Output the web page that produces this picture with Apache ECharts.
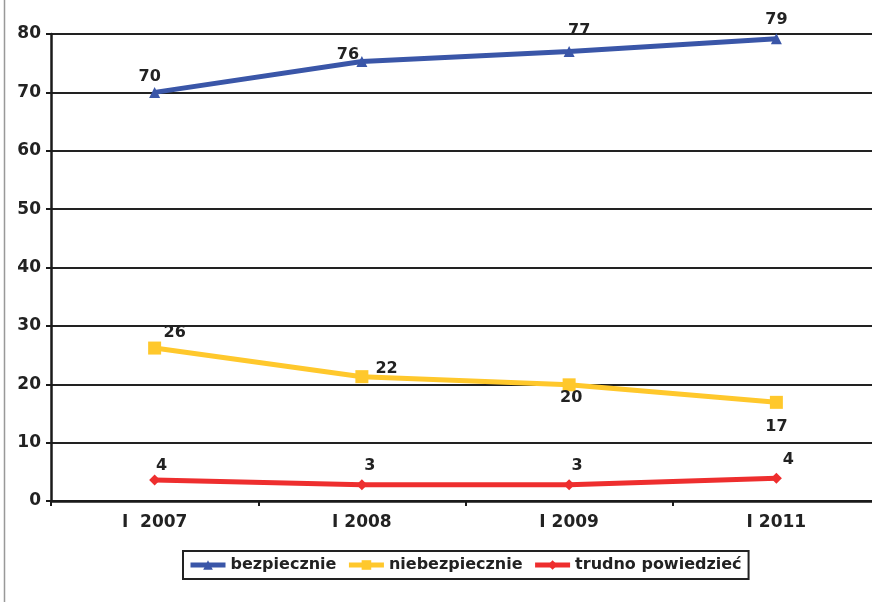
<!DOCTYPE html>
<html><head><meta charset="utf-8">
<script src="https://cdn.jsdelivr.net/npm/echarts@6/dist/echarts.min.js"></script>
<style>html,body{margin:0;padding:0;background:#fff;overflow:hidden;width:872px;height:602px}#c{width:880px;height:602px}</style>
</head><body><div id="c"></div>
<script>
const categories = ['I  2007', 'I 2008', 'I 2009', 'I 2011'];
const seriesNames = ['bezpiecznie', 'niebezpiecznie', 'trudno powiedzieć'];
const bezpiecznie = [70, 75.3, 77.0, 79.2];
const bezpiecznieLabels = [70, 76, 77, 79];
const niebezpiecznie = [26.2, 21.3, 19.9, 16.9];
const niebezpiecznieLabels = [26, 22, 20, 17];
const trudno = [3.6, 2.8, 2.8, 3.9];
const trudnoLabels = [4, 3, 3, 4];
const yTicks = [0, 10, 20, 30, 40, 50, 60, 70, 80];

const font = 'DejaVu Sans';
const lblBase = {show: true, color: '#222', fontFamily: font, fontWeight: 'bold', fontSize: 16};

function mk(vals, labels, opts) {
  return vals.map((v, i) => ({value: v, label: Object.assign({}, lblBase, {formatter: String(labels[i])}, opts[i])}));
}

const chart = echarts.init(document.getElementById('c'), null, {renderer: 'canvas'});
chart.setOption({
  animation: false,
  backgroundColor: '#fff',
  grid: {left: 51, top: 34, right: 0, bottom: 101, containLabel: false},
  xAxis: {
    type: 'category', data: categories, boundaryGap: true,
    axisLine: {lineStyle: {color: '#1a1a1a', width: 2.5}},
    axisTick: {show: true, length: 5, lineStyle: {color: '#1a1a1a', width: 2}},
    axisLabel: {color: '#222', fontFamily: font, fontWeight: 'bold', fontSize: 17, margin: 13}
  },
  yAxis: {
    type: 'value', min: 0, max: 80, interval: 10,
    axisLine: {show: true, lineStyle: {color: '#1a1a1a', width: 2.5}},
    axisTick: {show: true, length: 5, lineStyle: {color: '#1a1a1a', width: 2}},
    axisLabel: {color: '#222', fontFamily: font, fontWeight: 'bold', fontSize: 17, margin: 10,
      formatter: v => yTicks.includes(v) ? String(v) : ''},
    splitLine: {lineStyle: {color: '#222', width: 2}}
  },
  legend: {
    bottom: 23, left: 183,
    data: seriesNames,
    itemWidth: 35, itemHeight: 12, itemGap: 10,
    padding: [6, 7, 6, 5],
    borderColor: '#222', borderWidth: 2,
    lineStyle: {width: 5},
    textStyle: {color: '#222', fontFamily: font, fontWeight: 'bold', fontSize: 16}
  },
  graphic: [{type: 'line', shape: {x1: 4.5, y1: 0, x2: 4.5, y2: 602}, style: {stroke: '#999', lineWidth: 1.5}}],
  series: [
    {name: seriesNames[0], type: 'line', color: '#3A56A8', symbol: 'triangle', symbolSize: 11,
     lineStyle: {width: 5}, itemStyle: {color: '#3A56A8'},
     data: mk(bezpiecznie, bezpiecznieLabels, [
       {position: 'top', offset: [-5, 3]},
       {position: 'top', offset: [-14, 12]},
       {position: 'top', offset: [10, -2]},
       {position: 'top', offset: [0, 0]}])},
    {name: seriesNames[1], type: 'line', color: '#FFC82C', symbol: 'rect', symbolSize: 13,
     lineStyle: {width: 5}, itemStyle: {color: '#FFC82C'},
     data: mk(niebezpiecznie, niebezpiecznieLabels, [
       {position: 'top', offset: [20, 4]},
       {position: 'right', offset: [2, -8]},
       {position: 'bottom', offset: [2, -6]},
       {position: 'bottom', offset: [0, 5]}])},
    {name: seriesNames[2], type: 'line', color: '#EE2E2E', symbol: 'diamond', symbolSize: 11,
     lineStyle: {width: 5}, itemStyle: {color: '#EE2E2E'},
     data: mk(trudno, trudnoLabels, [
       {position: 'top', offset: [7, 4]},
       {position: 'top', offset: [8, 0]},
       {position: 'top', offset: [8, 0]},
       {position: 'top', offset: [12, 0]}])}
  ]
});
</script></body></html>
